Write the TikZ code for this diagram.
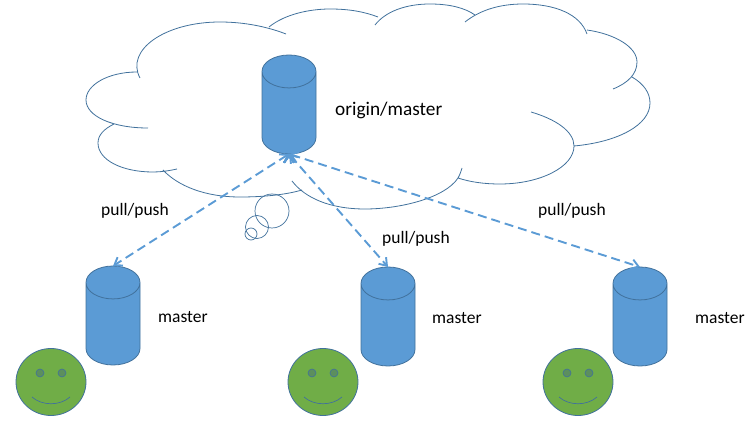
\documentclass[tikz,border=0pt]{standalone}
\usepackage{fontspec}
\setmainfont{Carlito}
\usetikzlibrary{arrows.meta, positioning, shapes.geometric}

\definecolor{repoblue}{HTML}{5B9BD5}
\definecolor{linkblue}{HTML}{41719C}
\definecolor{facegreen}{HTML}{70AD47}
\definecolor{eyegreen}{HTML}{5C8F5E}

\tikzset{
  repo/.style = {cylinder, shape border rotate = 90, shape aspect = 0.61, draw = linkblue, line width = 0.8pt,
    fill = repoblue, minimum width = 54pt, minimum height = 99pt, inner sep = 27pt, outer sep = 0pt, anchor = south},
  face/.style = {ellipse, draw = linkblue, line width = 0.8pt, fill = facegreen,
    minimum width = 70pt, minimum height = 67pt, inner sep = 0pt},
  eye/.style = {circle, draw = linkblue, line width = 0.6pt, fill = eyegreen, minimum size = 8pt, inner sep = 0pt},
  bubble/.style = {circle, draw = linkblue, line width = 0.7pt, inner sep = 0pt},
  txt/.style = {font = \fontsize{17.5}{20}\selectfont, inner sep = 0pt},
  link/.style = {{Straight Barb[length = 7pt, width = 10pt]}-{Straight Barb[length = 7pt, width = 10pt]},
    draw = repoblue, line width = 1.9pt, dash pattern = on 9pt off 5pt}
}

\begin{document}
\begin{tikzpicture} [x = 1pt, y = -1pt, node distance = 19pt]

\useasboundingbox (0,0) rectangle (753,430);

% cloud
\draw [linkblue, line width = 0.8pt]
    (140,78) .. controls (125,50) and (165,22) .. (220,22) .. controls (245,22) and (268,27) .. (286,34)
    (269,27) .. controls (285,14) and (310,9) .. (330,9) .. controls (350,9) and (365,12) .. (378,17)
    (375,25) .. controls (385,12) and (405,4) .. (430,4) .. controls (450,4) and (465,8) .. (475,15)
    (465,22) .. controls (480,10) and (500,4) .. (523,4) .. controls (555,4) and (580,14) .. (587,34)
    (587,30) .. controls (615,34) and (637,47) .. (637,62) .. controls (637,74) and (628,83) .. (613,89)
    (632,77) .. controls (644,84) and (650,93) .. (650,103) .. controls (650,125) and (618,142) .. (574,146)
    (531,112) .. controls (555,119) and (574,131) .. (574,146) .. controls (574,167) and (540,184) .. (500,184) .. controls (484,184) and (470,182) .. (458,178)
    (462,168) .. controls (460,175) and (458,178) .. (458,178) .. controls (445,198) and (400,209) .. (365,209) .. controls (330,209) and (305,198) .. (292,181)
    (302,190) .. controls (285,195) and (262,197) .. (240,197) .. controls (205,197) and (178,186) .. (163,170)
    (177,169) .. controls (168,171) and (160,172) .. (153,172) .. controls (122,172) and (98,160) .. (98,143) .. controls (98,135) and (104,129) .. (114,124)
    (148,128) .. controls (112,128) and (86,116) .. (86,100) .. controls (86,85) and (108,72) .. (137,72);

\node (origin) [repo] at (289,154) {};
\node (originlabel) [txt, font = \fontsize{19.3}{22}\selectfont, right = of origin, yshift = 10.5pt] {origin/master};

\node (repoA) [repo] at (113,365) {};
\node (repoB) [repo] at (388,366) {};
\node (repoC) [repo] at (640,366) {};
\node (masterA) [txt, right = 18pt of repoA, yshift = 15.5pt] {master};
\node (masterB) [txt, right = 17pt of repoB, yshift = 15.5pt] {master};
\node (masterC) [txt, right = 28pt of repoC, yshift = 15.5pt] {master};

\node (labelA) [txt] at (135,211) {pull/push};
\node (labelB) [txt] at (416,239) {pull/push};
\node (labelC) [txt] at (572,211) {pull/push};

\path [link] (origin.south) edge (repoA.north);
\path [link] (origin.south) edge (repoB.north);
\path [link] (origin.south) edge (repoC.north);

% thought bubbles
\node (bubbleA) [bubble, minimum size = 34pt] at (272,211) {};
\node (bubbleB) [bubble, minimum size = 23pt] at (257,227) {};
\node (bubbleC) [bubble, minimum size = 12pt] at (251,234) {};

% faces
\node (faceA) [face] at (51,382) {};
\node (faceB) [face] at (323,382) {};
\node (faceC) [face] at (578,382) {};
\node (eyeA1) [eye] at ([shift = {(-11,-9)}]faceA.center) {};
\node (eyeA2) [eye] at ([shift = {(11,-9)}]faceA.center) {};
\node (eyeB1) [eye] at ([shift = {(-11,-9)}]faceB.center) {};
\node (eyeB2) [eye] at ([shift = {(11,-9)}]faceB.center) {};
\node (eyeC1) [eye] at ([shift = {(-11,-9)}]faceC.center) {};
\node (eyeC2) [eye] at ([shift = {(11,-9)}]faceC.center) {};
\draw [linkblue, line width = 0.7pt] ([shift = {(-19,15)}]faceA.center) .. controls +(10,9) and +(-10,9) .. ([shift = {(19,15)}]faceA.center);
\draw [linkblue, line width = 0.7pt] ([shift = {(-19,15)}]faceB.center) .. controls +(10,9) and +(-10,9) .. ([shift = {(19,15)}]faceB.center);
\draw [linkblue, line width = 0.7pt] ([shift = {(-19,15)}]faceC.center) .. controls +(10,9) and +(-10,9) .. ([shift = {(19,15)}]faceC.center);

\end{tikzpicture}
\end{document}
